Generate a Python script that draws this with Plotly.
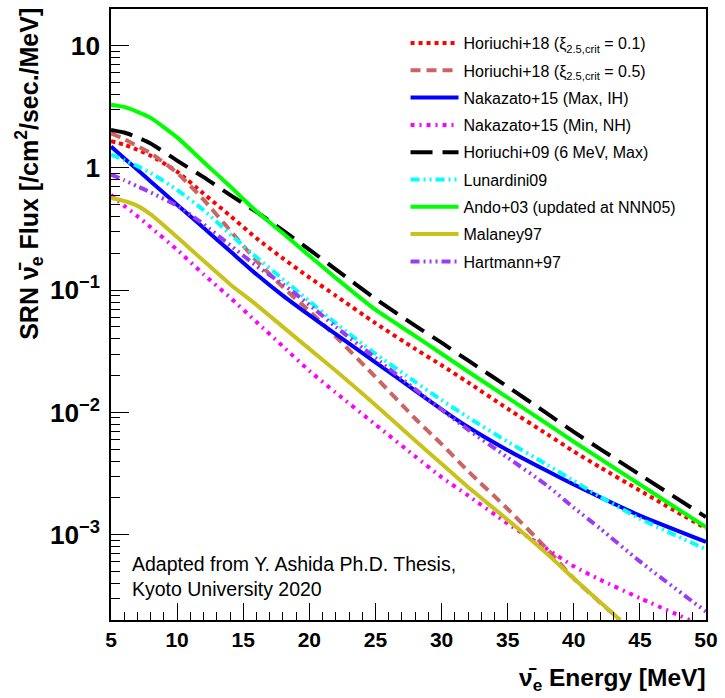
import plotly.graph_objects as go

# Energy grids [MeV]
energy = [5, 6, 7, 8, 10, 12, 14, 16, 18, 20, 22, 25, 28, 30, 32, 35, 38, 40, 42, 45, 50]
energy_h18b = [5, 6, 7, 8, 10, 12, 14, 16, 18, 20, 22, 25, 28, 30, 32, 35, 38, 40, 43.5]
energy_n15min = [5, 6, 7, 8, 10, 12, 14, 16, 18, 20, 22, 25, 28, 30, 32, 35, 38, 40, 42, 45, 48.75]
energy_mal = [5, 6, 7, 8, 10, 12, 14, 16, 18, 20, 22, 25, 28, 30, 32, 35, 38, 40, 43.5]

# SRN anti-nu_e flux [/cm^2/sec./MeV]
horiuchi18_01 = [1.66, 1.55, 1.41, 1.26, 0.933, 0.617, 0.407, 0.266, 0.182, 0.127, 0.0902,
                 0.0537, 0.0331, 0.0243, 0.0176, 0.0107, 6.61e-3, 4.79e-3, 3.55e-3, 2.29e-3, 1.12e-3]
horiuchi18_05 = [1.92, 1.72, 1.51, 1.32, 0.912, 0.550, 0.309, 0.174, 0.106, 0.0676, 0.0417,
                 0.0195, 8.91e-3, 5.50e-3, 3.31e-3, 1.62e-3, 7.59e-4, 4.37e-4, 2.0e-4]
nakazato15_max = [1.50, 1.20, 0.966, 0.776, 0.501, 0.324, 0.209, 0.135, 0.0902, 0.0624, 0.0437,
                  0.0257, 0.0151, 0.0106, 7.59e-3, 4.90e-3, 3.31e-3, 2.57e-3, 2.02e-3, 1.43e-3, 8.71e-4]
nakazato15_min = [0.603, 0.490, 0.403, 0.327, 0.214, 0.135, 0.0871, 0.0550, 0.0347, 0.0219, 0.0145,
                  7.94e-3, 4.37e-3, 2.95e-3, 2.09e-3, 1.23e-3, 7.59e-4, 5.50e-4, 4.27e-4, 3.02e-4, 2.0e-4]
horiuchi09 = [2.05, 1.95, 1.78, 1.585, 1.148, 0.841, 0.603, 0.437, 0.309, 0.215, 0.148,
              0.0851, 0.0513, 0.0372, 0.0266, 0.0162, 9.77e-3, 6.92e-3, 5.01e-3, 3.09e-3, 1.39e-3]
lunardini09 = [1.29, 1.16, 1.035, 0.912, 0.661, 0.452, 0.288, 0.186, 0.123, 0.0813, 0.0537,
               0.0302, 0.0178, 0.0126, 9.12e-3, 5.75e-3, 3.72e-3, 2.75e-3, 2.04e-3, 1.35e-3, 7.59e-4]
ando03 = [3.30, 3.16, 2.88, 2.57, 1.78, 1.12, 0.708, 0.442, 0.292, 0.191, 0.126,
          0.0692, 0.0422, 0.0302, 0.0216, 0.0132, 8.04e-3, 5.75e-3, 4.17e-3, 2.57e-3, 1.15e-3]
malaney97 = [0.568, 0.537, 0.490, 0.417, 0.272, 0.174, 0.112, 0.0759, 0.0501, 0.0331, 0.0219,
             0.0115, 5.89e-3, 3.80e-3, 2.45e-3, 1.32e-3, 6.92e-4, 4.37e-4, 2.0e-4]
hartmann97 = [0.881, 0.794, 0.708, 0.631, 0.490, 0.347, 0.234, 0.158, 0.112, 0.0759, 0.0501,
              0.0279, 0.0155, 0.0105, 7.24e-3, 4.27e-3, 2.51e-3, 1.66e-3, 1.12e-3, 6.03e-4, 2.34e-4]

models = [
    ("Horiuchi+18 (ξ<sub>2.5,crit</sub> = 0.1)", energy, horiuchi18_01, "#ff0000", "4px,4px", 4),
    ("Horiuchi+18 (ξ<sub>2.5,crit</sub> = 0.5)", energy_h18b, horiuchi18_05, "#cc6464", "10px,6px", 4),
    ("Nakazato+15 (Max, IH)", energy, nakazato15_max, "#0000ff", "solid", 4),
    ("Nakazato+15 (Min, NH)", energy_n15min, nakazato15_min, "#ff00ff", "4px,5px,2px,5px", 4),
    ("Horiuchi+09 (6 MeV, Max)", energy, horiuchi09, "#000000", "22px,10px", 4),
    ("Lunardini09", energy, lunardini09, "#00ffff", "9px,4px,2px,4px,2px,4px", 4),
    ("Ando+03 (updated at NNN05)", energy, ando03, "#00ff00", "solid", 4),
    ("Malaney97", energy_mal, malaney97, "#c8c21a", "solid", 4),
    ("Hartmann+97", energy, hartmann97, "#9a3cf5", "9px,4px,2px,4px,2px,4px,2px,4px", 4),
]

FONT = "Liberation Sans, Arial, Helvetica, sans-serif"

fig = go.Figure()
for i, (name, xs, ys, color, dash, width) in enumerate(models):
    fig.add_trace(go.Scatter(
        x=xs, y=ys, mode="lines", name=name, legendgroup=f"g{i}",
        line=dict(color=color, dash=dash, width=width, shape="spline", smoothing=0.6),
    ))

fig.update_layout(
    width=725, height=698,
    margin=dict(l=111, r=15, t=7, b=78),
    paper_bgcolor="white", plot_bgcolor="white",
    font=dict(family=FONT, color="black"),
    showlegend=True,
    legend=dict(
        x=0.495, y=0.972, xanchor="left", yanchor="top",
        bgcolor="rgba(0,0,0,0)", borderwidth=0,
        font=dict(family=FONT, size=16, color="black"),
        itemwidth=48, tracegroupgap=3.5,
    ),
)

fig.update_xaxes(
    range=[5, 50], dtick=5, tick0=5,
    showgrid=False, zeroline=False,
    showline=True, mirror=True, linecolor="black", linewidth=1.5,
    ticks="inside", ticklen=17, tickwidth=1.2, tickcolor="black",
    minor=dict(ticks="inside", ticklen=8, dtick=1, tickwidth=1.2, tickcolor="black", showgrid=False),
    tickfont=dict(family=FONT, size=21, color="black", weight="bold"),
)
fig.update_yaxes(
    type="log", range=[-3.699, 1.301], dtick=1,
    exponentformat="power",
    showgrid=False, zeroline=False,
    showline=True, mirror=True, linecolor="black", linewidth=1.5,
    ticks="inside", ticklen=18, tickwidth=1.2, tickcolor="black",
    minor=dict(ticks="inside", ticklen=9, dtick="D1", tickwidth=1.2, tickcolor="black", showgrid=False),
    tickfont=dict(family=FONT, size=21, color="black", weight="bold"),
    ticklabelstandoff=5,
)

# Axis titles (ROOT-style alignment: y title at top, x title at right)
fig.add_annotation(
    text="<b>SRN ν̄<sub>e</sub> Flux [/cm<sup>2</sup>/sec./MeV]</b>",
    xref="paper", yref="paper", x=-0.137, y=1.006,
    xanchor="center", yanchor="top", textangle=-90, showarrow=False,
    font=dict(family=FONT, size=25, color="black"),
)
fig.add_annotation(
    text="<b>ν̄<sub>e</sub> Energy [MeV]</b>",
    xref="paper", yref="paper", x=1.004, y=-0.097,
    xanchor="right", yanchor="middle", showarrow=False,
    font=dict(family=FONT, size=24.5, color="black"),
)
fig.add_annotation(
    text="Adapted from Y. Ashida Ph.D. Thesis,<br>Kyoto University 2020",
    xref="paper", yref="paper", x=0.032, y=0.113,
    xanchor="left", yanchor="top", align="left", showarrow=False,
    font=dict(family=FONT, size=19.5, color="black"),
)

fig.write_html("out.html")
